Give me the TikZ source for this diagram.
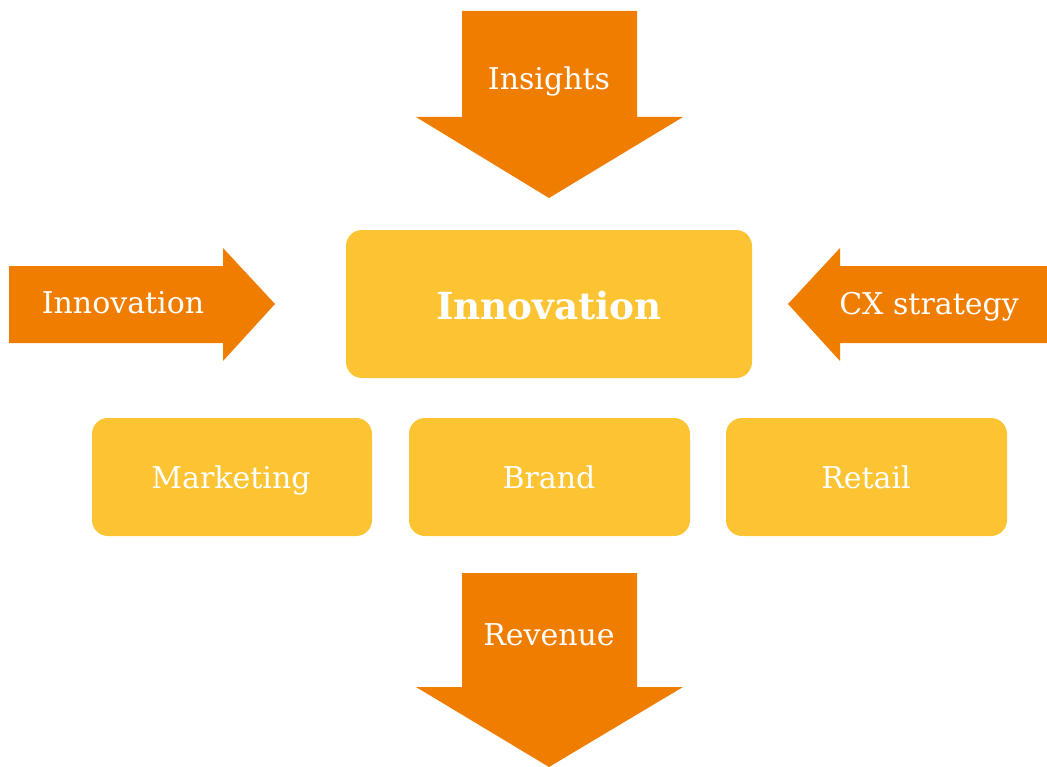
\documentclass[tikz,border=0pt]{standalone}
\usepackage{fontspec}
\setmainfont{DejaVu Serif}
\definecolor{laranja}{HTML}{EF7D00}
\definecolor{amarelo}{HTML}{FCC433}
\tikzset{
  rotulo/.style={text=white, anchor=base, inner sep=0pt, font=\fontsize{22.5}{27}\selectfont},
  titulo/.style={text=white, anchor=base, inner sep=0pt, font=\fontsize{28}{33}\selectfont\bfseries},
  caixa/.style={fill=amarelo, rounded corners=12pt}
}
\begin{document}
\begin{tikzpicture}[x=0.75pt,y=-0.75pt]
    % Moldura
    \useasboundingbox (0,0) rectangle (1047,767);

    % Seta de cima
    \fill[laranja] (462,11) -- (637,11) -- (637,117) -- (683,117) -- (549,198)
        -- (416,117) -- (462,117) -- cycle;
    \node[rotulo] (insights) at (549,90) {Insights};

    % Seta da esquerda
    \fill[laranja] (9,266) -- (223,266) -- (223,248) -- (275,304) -- (223,361)
        -- (223,343) -- (9,343) -- cycle;
    \node[rotulo] (entrada) at (123,313) {Innovation};

    % Seta da direita
    \fill[laranja] (1047,266) -- (840,266) -- (840,248) -- (788,304) -- (840,361)
        -- (840,343) -- (1047,343) -- cycle;
    \node[rotulo] (cx) at (929,314) {CX strategy};

    % Caixa central
    \fill[caixa] (346,230) rectangle (752,378);
    \node[titulo] (centro) at (549,319) {Innovation};

    % Caixas de baixo
    \fill[caixa] (92,418) rectangle (372,536);
    \fill[caixa] (409,418) rectangle (690,536);
    \fill[caixa] (726,418) rectangle (1007,536);
    \node[rotulo] (marketing) at (231,488) {Marketing};
    \node[rotulo] (brand) at (549,488) {Brand};
    \node[rotulo] (retail) at (866,488) {Retail};

    % Seta de baixo
    \fill[laranja] (462,573) -- (637,573) -- (637,687) -- (683,687) -- (549,767)
        -- (416,687) -- (462,687) -- cycle;
    \node[rotulo] (revenue) at (549,645) {Revenue};
\end{tikzpicture}
\end{document}
